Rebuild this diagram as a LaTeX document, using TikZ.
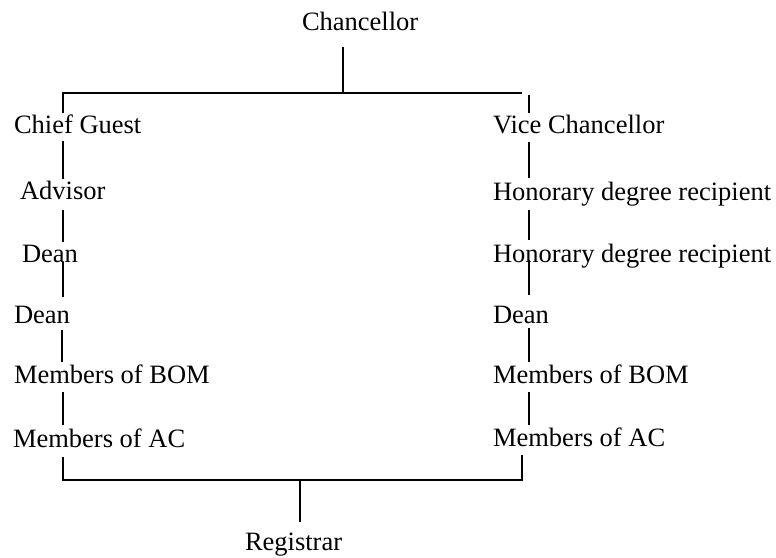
\documentclass[tikz,border=0pt]{standalone}
\usepackage{fontspec}
\setmainfont{Liberation Serif}
\begin{document}
\begin{tikzpicture}[x=1pt,y=-1pt,
  lbl/.style={anchor=base west,inner sep=0pt,outer sep=0pt,font=\fontsize{26.5}{30}\selectfont},
  conn/.style={line width=2pt}]
\useasboundingbox[fill=white] (0,0) rectangle (776,557);
% nodes
\node[lbl] (chan) at (302,30) {Chancellor};
\node[lbl] (cg) at (14,133) {Chief Guest};
\node[lbl] (adv) at (20,199) {Advisor};
\node[lbl] (deanA) at (22,262) {Dean};
\node[lbl] (deanB) at (14,323) {Dean};
\node[lbl] (bomL) at (14,383) {Members of BOM};
\node[lbl] (acL) at (13,447) {Members of AC};
\node[lbl] (vc) at (493,133) {Vice Chancellor};
\node[lbl] (hon1) at (493,200) {Honorary degree recipient};
\node[lbl] (hon2) at (493,262) {Honorary degree recipient};
\node[lbl] (deanR) at (493,323) {Dean};
\node[lbl] (bomR) at (493,383) {Members of BOM};
\node[lbl] (acR) at (493,446) {Members of AC};
\node[lbl] (reg) at (245,550) {Registrar};
% connector points
\coordinate (c0) at (343,47);
\coordinate (c1) at (343,93);
\coordinate (tl) at (63,93);
\coordinate (tr) at (522,93);
\coordinate (l0) at (63,113);
\coordinate (l1a) at (63,141); \coordinate (l1b) at (63,179);
\coordinate (l2a) at (63,210); \coordinate (l2b) at (63,242);
\coordinate (l3a) at (63,262); \coordinate (l3b) at (63,297);
\coordinate (l4a) at (62,330); \coordinate (l4b) at (62,362);
\coordinate (l5a) at (63,392); \coordinate (l5b) at (63,425);
\coordinate (l6a) at (63,457); \coordinate (bl) at (63,480);
\coordinate (r0a) at (529,95); \coordinate (r0b) at (529,113);
\coordinate (r1a) at (529,142); \coordinate (r1b) at (529,178);
\coordinate (r2a) at (529,210); \coordinate (r2b) at (529,240);
\coordinate (r3a) at (529,260); \coordinate (r3b) at (529,295);
\coordinate (r4a) at (529,328); \coordinate (r4b) at (529,362);
\coordinate (r5a) at (529,392); \coordinate (r5b) at (529,425);
\coordinate (r6a) at (522,455); \coordinate (br) at (522,480);
\coordinate (m0) at (300,480); \coordinate (m1) at (300,522);
% connectors
\draw[conn] (c0) -- (c1);
\draw[conn] (l0) -- (tl) -- (tr);
\draw[conn] (r0a) -- (r0b);
\draw[conn] (l1a) -- (l1b);
\draw[conn] (l2a) -- (l2b);
\draw[conn] (l3a) -- (l3b);
\draw[conn] (l4a) -- (l4b);
\draw[conn] (l5a) -- (l5b);
\draw[conn] (l6a) -- (bl) -- (br) -- (r6a);
\draw[conn] (r1a) -- (r1b);
\draw[conn] (r2a) -- (r2b);
\draw[conn] (r3a) -- (r3b);
\draw[conn] (r4a) -- (r4b);
\draw[conn] (r5a) -- (r5b);
\draw[conn] (m0) -- (m1);
\end{tikzpicture}
\end{document}
